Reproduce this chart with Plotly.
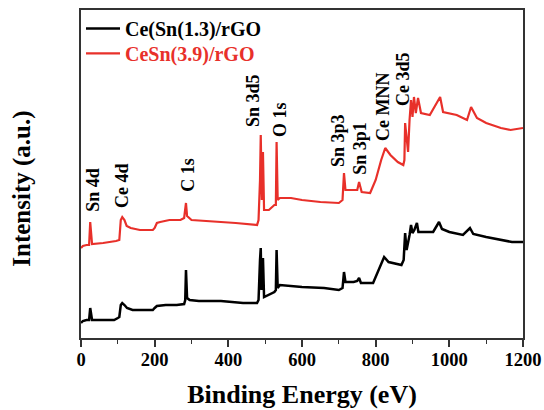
import plotly.graph_objects as go

# Binding energy (eV) and intensities (arbitrary units)
energy_black = [0, 5, 15, 22, 25, 28, 30, 60, 90, 100, 104, 108, 112, 118, 125, 140, 180, 195,
                200, 206, 230, 260, 280, 283, 285, 288, 295, 320, 380, 440, 478, 482, 486, 488,
                490, 494, 497, 510, 525, 529, 531, 534, 540, 600, 660, 700, 710, 714, 718, 740,
                750, 755, 760, 793, 805, 818, 823, 835, 870, 876, 880, 884, 888, 892, 896, 900,
                905, 912, 916, 930, 956, 972, 980, 1000, 1037, 1056, 1065, 1100, 1140, 1170, 1200]
intensity_black = [15, 17, 18, 18, 30, 20, 18, 18, 18, 20, 21, 33, 35, 33, 30, 28, 28, 28,
                   30, 32, 33, 33, 34, 38, 68, 40, 38, 37, 37, 35, 35, 38, 78, 90,
                   48, 80, 41, 43, 46, 48, 88, 50, 53, 51, 50, 48, 50, 66, 56, 56,
                   57, 60, 55, 55, 66, 78, 81, 76, 73, 78, 105, 88, 95, 103, 113, 105,
                   108, 115, 106, 106, 106, 116, 109, 106, 103, 110, 104, 101, 98, 96, 96]

energy_red = [0, 5, 15, 22, 25, 28, 30, 60, 85, 95, 104, 108, 112, 118, 124, 135, 160, 195,
              200, 206, 215, 240, 270, 280, 285, 288, 300, 350, 420, 478, 482, 486, 488,
              491, 494, 497, 510, 525, 529, 531, 534, 540, 570, 600, 650, 700, 710, 714, 718,
              740, 750, 755, 762, 785, 800, 815, 826, 840, 860, 875, 878, 880, 884, 888, 892,
              896, 900, 904, 909, 915, 923, 947, 975, 983, 1020, 1048, 1059, 1075, 1100, 1140,
              1166, 1200]
intensity_red = [90, 92, 93, 93, 116, 96, 94, 95, 96, 97, 98, 118, 121, 118, 112, 110, 108, 108,
                 110, 115, 116, 118, 118, 120, 135, 122, 118, 117, 115, 113, 118, 158, 203,
                 138, 186, 128, 128, 133, 133, 196, 138, 140, 140, 138, 136, 135, 138, 165, 148,
                 148, 148, 156, 146, 145, 158, 178, 190, 183, 176, 173, 178, 215, 198, 186, 218,
                 238, 221, 241, 225, 240, 225, 223, 241, 226, 223, 218, 231, 220, 215, 210,
                 208, 210]

series_names = ["Ce(Sn(1.3)/rGO", "CeSn(3.9)/rGO"]

peak_labels = ["Sn 4d", "Ce 4d", "C 1s", "Sn 3d5", "O 1s", "Sn 3p3", "Sn 3p1", "Ce MNN", "Ce 3d5"]
label_energy = [32, 111, 290, 467, 540, 698, 757, 820, 874]
label_intensity = [148, 153, 163, 237, 219, 197, 190, 231, 259]

x_ticks = [0, 200, 400, 600, 800, 1000, 1200]

FONT = "Liberation Serif"
RED = "#e8302a"

fig = go.Figure()
fig.add_trace(go.Scatter(x=energy_black, y=intensity_black, mode="lines",
                         line=dict(color="black", width=2.5), name=series_names[0],
                         legend="legend", showlegend=True))
fig.add_trace(go.Scatter(x=energy_red, y=intensity_red, mode="lines",
                         line=dict(color=RED, width=2.2),
                         name='<span style="color:%s">%s</span>' % (RED, series_names[1]),
                         legend="legend2", showlegend=True))

for t, ex, iy in zip(peak_labels, label_energy, label_intensity):
    fig.add_annotation(x=ex, y=iy, xref="x", yref="y", text=t, showarrow=False,
                       textangle=-90, xanchor="center", yanchor="middle",
                       font=dict(family=FONT, size=18, color="black", weight="bold"))

fig.add_annotation(x=-0.1335, y=0.455, xref="paper", yref="paper", text="Intensity (a.u.)",
                   showarrow=False, textangle=-90, xanchor="center", yanchor="middle",
                   font=dict(family=FONT, size=25, color="black", weight="bold"))

legend_style = dict(xanchor="left", yanchor="top", bgcolor="rgba(0,0,0,0)",
                    font=dict(family=FONT, size=20, color="black", weight="bold"),
                    itemwidth=34, visible=True)

fig.update_layout(
    width=544, height=410,
    showlegend=True,
    margin=dict(l=81, r=21, t=10, b=72, autoexpand=False),
    paper_bgcolor="white", plot_bgcolor="white",
    font=dict(family=FONT, color="black"),
    legend=dict(x=0.0, y=1.003, **legend_style),
    legend2=dict(x=0.0, y=0.927, **legend_style),
    xaxis=dict(range=[0, 1200], tickvals=x_ticks, ticks="outside", ticklen=7, tickwidth=1.5,
               tickcolor="#333", showline=True, linecolor="#333", linewidth=1.5, mirror=True,
               showgrid=False, zeroline=False, automargin=False, ticklabelstandoff=-3,
               tickfont=dict(family=FONT, size=18.5, color="black", weight="bold"),
               minor=dict(dtick=100, ticks="outside", ticklen=4, tickcolor="#333", tickwidth=1.2, showgrid=False),
               title=dict(text="Binding Energy (eV)", standoff=16,
                          font=dict(family=FONT, size=26, color="black", weight="bold"))),
    yaxis=dict(range=[0, 328], showticklabels=False, ticks="", showline=True, linecolor="#333",
               linewidth=1.5, mirror=True, showgrid=False, zeroline=False, automargin=False),
)

fig.write_html("out.html",
               config={"displayModeBar": False},
               post_script="document.documentElement.style.overflow='hidden';"
                           "document.body.style.margin='0';"
                           "document.body.style.overflow='hidden';")
